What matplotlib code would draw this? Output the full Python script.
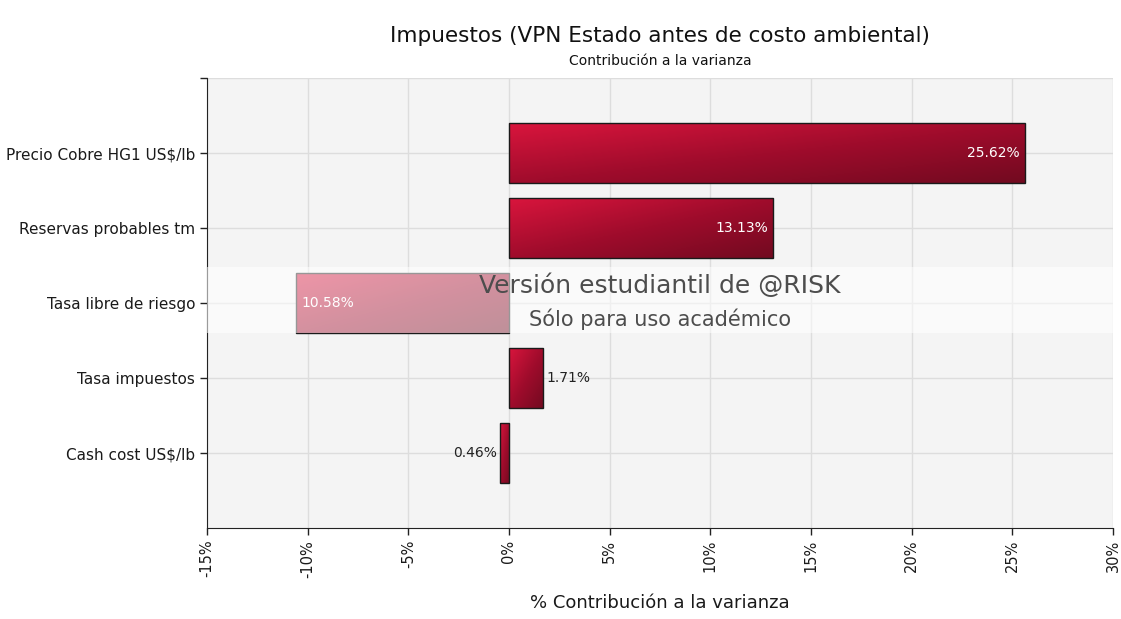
import numpy as np
import matplotlib
matplotlib.use('Agg')
import matplotlib.pyplot as plt
from matplotlib.colors import LinearSegmentedColormap

# datos
variables = ['Precio Cobre HG1 US$/lb', 'Reservas probables tm', 'Tasa libre de riesgo',
             'Tasa impuestos', 'Cash cost US$/lb']
contribucion = [25.62, 13.13, -10.58, 1.71, -0.46]
xticks = [-15, -10, -5, 0, 5, 10, 15, 20, 25, 30]

plt.rcParams['font.family'] = ['DejaVu Sans']

fig = plt.figure(figsize=(11.21, 6.19), dpi=100)
ax = fig.add_axes([207 / 1121, 1 - 528 / 619, 906 / 1121, 450 / 619])
ax.set_facecolor('#f4f4f4')

cmap = LinearSegmentedColormap.from_list('rojo', ['#d9153d', '#a00c2c', '#720a20'])
grad = np.add.outer(np.linspace(0, 1, 60), np.linspace(0, 1, 200)) / 2

ypos = np.arange(len(variables))
for y, v in zip(ypos, contribucion):
    bar = ax.barh(y, v, height=0.8, color='none', edgecolor='#1a1a1a', linewidth=1, zorder=4)[0]
    x0, x1 = min(0, v), max(0, v)
    im = ax.imshow(grad, cmap=cmap, extent=(x0, x1, y + 0.4, y - 0.4),
                   aspect='auto', zorder=3, interpolation='bilinear')
    im.set_clip_path(bar)
    txt = f'{abs(v):.2f}%'
    if abs(v) > 5:
        if v > 0:
            ax.text(v - 0.25, y, txt, ha='right', va='center', color='white', fontsize=10, zorder=5)
        else:
            ax.text(v + 0.25, y, txt, ha='left', va='center', color='white', fontsize=10, zorder=5)
    else:
        if v > 0:
            ax.text(v + 0.15, y, txt, ha='left', va='center', color='#222222', fontsize=10, zorder=5)
        else:
            ax.text(v - 0.15, y, txt, ha='right', va='center', color='#222222', fontsize=10, zorder=5)

ax.set_xlim(-15, 30)
ax.set_ylim(5, -1)
ax.set_xticks(xticks)
ax.set_xticklabels([f'{t}%' for t in xticks], rotation=90, fontsize=10.5, color='#1a1a1a')
ax.set_yticks(list(range(-1, 5)))
ax.set_yticklabels([''] + variables, fontsize=11, color='#1a1a1a')
ax.tick_params(axis='both', length=5, width=1, color='#222222')
ax.grid(True, color='#dddddd', linewidth=1, zorder=0)
ax.set_axisbelow(True)
for s in ['top', 'right']:
    ax.spines[s].set_visible(False)
ax.spines['left'].set_color('#222222')
ax.spines['bottom'].set_color('#222222')
ax.set_xlabel('% Contribución a la varianza', fontsize=13, color='#1a1a1a', labelpad=12)

# marca de agua
ax.axhspan(1.52, 2.4, color='white', alpha=0.55, zorder=6, linewidth=0)
ax.text(7.5, 1.77, 'Versión estudiantil de @RISK', ha='center', va='center',
        fontsize=18, color='#4d4d4d', zorder=7)
ax.text(7.5, 2.22, 'Sólo para uso académico', ha='center', va='center',
        fontsize=15, color='#4d4d4d', zorder=7)

fig.text(660 / 1121, 1 - 36 / 619, 'Impuestos (VPN Estado antes de costo ambiental)',
         ha='center', va='center', fontsize=15.5, color='#111111')
fig.text(660 / 1121, 1 - 61 / 619, 'Contribución a la varianza',
         ha='center', va='center', fontsize=10, color='#111111')

fig.savefig('out.png', dpi=100)
